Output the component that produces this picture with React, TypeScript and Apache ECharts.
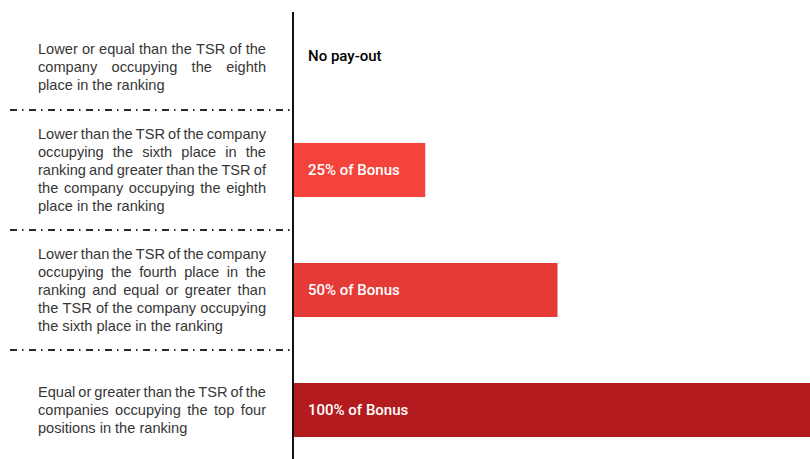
import React, { useEffect, useRef } from "react";
import * as echarts from "echarts";

const criteriaLines: string[][] = [
  ["Lower or equal than the TSR of the", "company occupying the eighth", "place in the ranking"],
  [
    "Lower than the TSR of the company",
    "occupying the sixth place in the",
    "ranking and greater than the TSR of",
    "the company occupying the eighth",
    "place in the ranking",
  ],
  [
    "Lower than the TSR of the company",
    "occupying the fourth place in the",
    "ranking and equal or greater than",
    "the TSR of the company occupying",
    "the sixth place in the ranking",
  ],
  ["Equal or greater than the TSR of the", "companies occupying the top four", "positions in the ranking"],
];
const payout: number[] = [0, 25, 50, 100];
const payoutLabels: string[] = ["No pay-out", "25% of Bonus", "50% of Bonus", "100% of Bonus"];
const barColors: string[] = ["#000000", "#f4433a", "#e53a36", "#b31b1e"];

const LEFT_FONT_SIZE = 14.6;
const LEFT_FONT_FAMILY = '"Liberation Sans", Arial, sans-serif';
const TEXT_WIDTH = 228;

export default function App() {
  const ref = useRef<HTMLDivElement>(null);
  useEffect(() => {
    if (!ref.current) return;
    const chart = echarts.init(ref.current, undefined, { renderer: "svg" });
    const canvas = document.createElement("canvas");
    const ctx = canvas.getContext("2d")!;
    ctx.font = `${LEFT_FONT_SIZE}px ${LEFT_FONT_FAMILY}`;
    const measure = (s: string) => ctx.measureText(s).width;

    const rich: Record<string, any> = {};
    const labels = criteriaLines.map((lines, ri) =>
      lines
        .map((line, li) => {
          const words = line.split(" ");
          if (li === lines.length - 1 || words.length < 2) return line;
          const total = words.reduce((s, w) => s + measure(w), 0);
          const gap = Math.max(2, (TEXT_WIDTH - total) / (words.length - 1));
          const key = `g${ri}x${li}`;
          rich[key] = { width: gap, fontSize: LEFT_FONT_SIZE, fontFamily: LEFT_FONT_FAMILY, lineHeight: 18 };
          return words.join(`{${key}| }`);
        })
        .join("\n")
    );

    const categories = criteriaLines.map((l) => l.join(" "));

    chart.setOption({
      animation: false,
      backgroundColor: "#ffffff",
      grid: [
        { left: 293, right: -12, top: -10, bottom: -11, containLabel: false, outerBoundsMode: "none" },
        { left: 10, right: 518, top: -10, bottom: -11, containLabel: false, outerBoundsMode: "none" },
      ],
      xAxis: [
        { type: "value", gridIndex: 0, min: 0, max: 100, show: false },
        { type: "value", gridIndex: 1, min: 0, max: 100, show: false },
      ],
      yAxis: [
        {
          type: "category",
          gridIndex: 0,
          inverse: true,
          data: categories.map((c, i) =>
            i === 0 ? { value: c, textStyle: { padding: [33, 0, 0, 0], align: "left" } } : c
          ),
          axisLine: { show: false },
          axisTick: { show: false },
          splitLine: { show: false },
          axisLabel: {
            interval: 0,
            align: "left",
            verticalAlign: "middle",
            margin: 255,
            color: "#363636",
            fontSize: LEFT_FONT_SIZE,
            fontFamily: LEFT_FONT_FAMILY,
            lineHeight: 18,
            hideOverlap: false,
            rich,
            formatter: (_v: string, idx: number) => labels[idx],
          },
        },
        {
          type: "category",
          gridIndex: 1,
          inverse: true,
          data: categories,
          axisLine: { show: false },
          axisTick: { show: false },
          axisLabel: { show: false },
          splitLine: {
            show: true,
            interval: 0,
            lineStyle: { color: "#2a2a2a", width: 1.8, type: [7, 5, 1.5, 5.5] },
          },
        },
      ],
      graphic: [
        {
          type: "line",
          shape: { x1: 293, y1: 12, x2: 293, y2: 459 },
          style: { stroke: "#111111", lineWidth: 2 },
          z: 10,
        },
      ],
      series: [
        {
          type: "bar",
          xAxisIndex: 0,
          yAxisIndex: 0,
          barWidth: 54,
          data: payout.map((v, i) => ({
            value: v,
            itemStyle: { color: barColors[i] },
            label: i === 0 ? { color: "#000000", offset: [0, 6] } : { color: "#ffffff" },
          })),
          label: {
            show: true,
            position: "insideLeft",
            distance: 15,
            fontSize: 15,
            fontWeight: 500,
            fontFamily: "Roboto, sans-serif",
            formatter: (p: any) => payoutLabels[p.dataIndex],
          },
        },
      ],
    });
    return () => chart.dispose();
  }, []);
  return (
    <div
      ref={ref}
      style={{ position: "fixed", left: 0, top: 0, width: 810, height: 459 }}
    />
  );
}
